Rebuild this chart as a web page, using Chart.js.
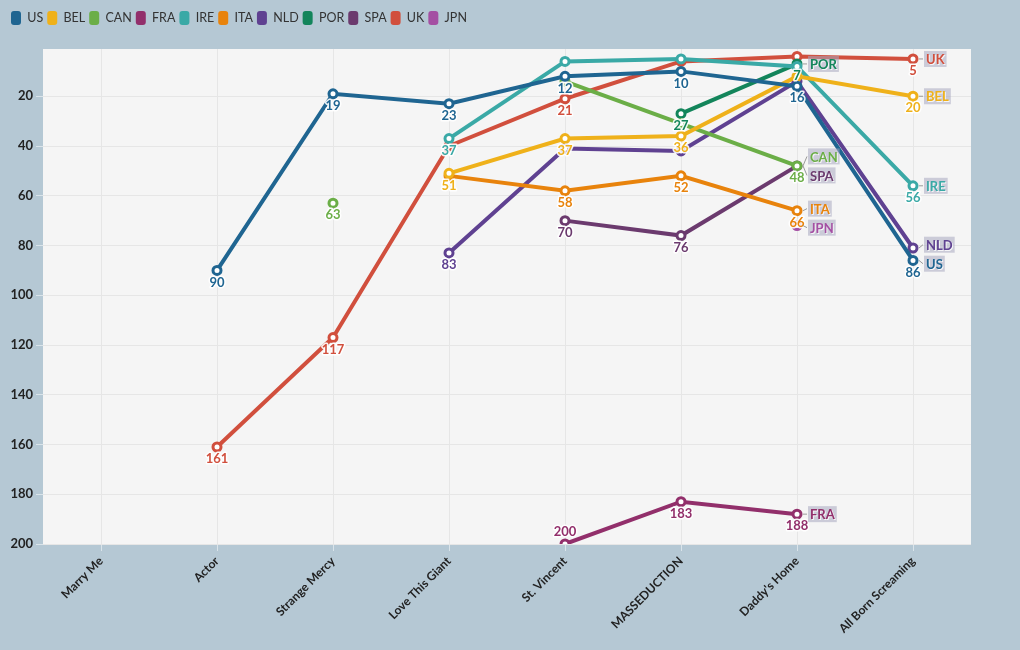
<!DOCTYPE html>
<html>
<head>
<meta charset="utf-8">
<script src="https://cdn.jsdelivr.net/npm/chart.js@4"></script>
<style>
  html, body { margin: 0; padding: 0; background: #b5c8d4; }
  #wrap { width: 1020px; height: 650px; }
</style>
</head>
<body>
<div id="wrap"><canvas id="rankChart" width="1020" height="650"></canvas></div>
<script>
/* ================= DATA ================= */
const albums = ["Marry Me", "Actor", "Strange Mercy", "Love This Giant", "St. Vincent", "MASSEDUCTION", "Daddy's Home", "All Born Screaming"];

const usPeaks  = [null, 90, 19, 23, 12, 10, 16, 86];
const belPeaks = [null, null, null, 51, 37, 36, 12, 20];
const canPeaks = [null, null, 63, null, 14, 31, 48, null];
const fraPeaks = [null, null, null, null, 200, 183, 188, null];
const irePeaks = [null, null, null, 37, 6, 5, 8, 56];
const itaPeaks = [null, null, null, 52, 58, 52, 66, null];
const nldPeaks = [null, null, null, 83, 41, 42, 14, 81];
const porPeaks = [null, null, null, null, null, 27, 7, null];
const spaPeaks = [null, null, null, null, 70, 76, 48, null];
const ukPeaks  = [null, 161, 117, 40, 21, 6, 4, 5];
const jpnPeaks = [null, null, null, null, null, null, 72, null];

const yTicks = [20, 40, 60, 80, 100, 120, 140, 160, 180, 200];

// value labels that the original hides (series:index)
const hiddenLabels = ["BEL:6", "CAN:4", "CAN:5", "IRE:4", "IRE:5", "IRE:6", "ITA:3",
  "NLD:4", "NLD:5", "NLD:6", "NLD:7", "SPA:6", "UK:3", "UK:5", "UK:6", "JPN:6"];

const FONT = "Lato, 'Noto Sans', sans-serif";

/* ================= DATASETS ================= */
function series(label, data, color) {
  return {
    label: label,
    data: data,
    borderColor: color,
    backgroundColor: color,
    pointBackgroundColor: "#ffffff",
    pointBorderColor: color,
    borderWidth: 4,
    pointRadius: 4,
    pointBorderWidth: 3,
    pointHoverRadius: 4,
    tension: 0,
    spanGaps: false
  };
}

const datasets = [
  series("US", usPeaks, "#1f6591"),
  series("BEL", belPeaks, "#efb11a"),
  series("CAN", canPeaks, "#6bae47"),
  series("FRA", fraPeaks, "#922f6b"),
  series("IRE", irePeaks, "#3aa9a6"),
  series("ITA", itaPeaks, "#e8830c"),
  series("NLD", nldPeaks, "#5f4191"),
  series("POR", porPeaks, "#13855b"),
  series("SPA", spaPeaks, "#6b3a6e"),
  series("UK", ukPeaks, "#d14f3d"),
  series("JPN", jpnPeaks, "#a44fa3")
];

/* ================= PLUGINS ================= */
const backgroundPlugin = {
  id: "bg",
  beforeDraw(chart) {
    const { ctx, chartArea: a } = chart;
    ctx.save();
    ctx.fillStyle = "#b5c8d4";
    ctx.fillRect(0, 0, chart.width, chart.height);
    ctx.fillStyle = "#f5f5f5";
    ctx.fillRect(a.left, a.top, a.right - a.left, a.bottom - a.top);
    ctx.restore();
  }
};

// fixed legend strip height, nudged in from the corner
const legendPlacementPlugin = {
  id: "legendPlacement",
  beforeUpdate(chart) {
    const lg = chart.legend;
    if (lg && !lg._fixed) {
      const fit = lg.fit;
      const draw = lg.draw;
      lg.fit = function () { fit.call(this); this.height = 49; };
      lg.draw = function () {
        this.ctx.save();
        this.ctx.translate(7, 7);
        draw.call(this);
        this.ctx.restore();
      };
      lg._fixed = true;
    }
  }
};

const labelPlugin = {
  id: "rankLabels",
  afterDatasetsDraw(chart) {
    const ctx = chart.ctx;
    const area = chart.chartArea;
    ctx.save();
    ctx.textAlign = "center";
    ctx.textBaseline = "middle";
    ctx.lineJoin = "round";

    // values under the points
    ctx.font = "bold 13px " + FONT;
    chart.data.datasets.forEach((ds, i) => {
      const meta = chart.getDatasetMeta(i);
      meta.data.forEach((pt, j) => {
        if (ds.data[j] == null) return;
        if (hiddenLabels.includes(ds.label + ":" + j)) return;
        let y = pt.y + 12;
        if (y + 7 > area.bottom) y = pt.y - 12;
        ctx.strokeStyle = "rgba(255,255,255,0.9)";
        ctx.lineWidth = 3;
        ctx.strokeText(ds.data[j], pt.x, y);
        ctx.fillStyle = ds.borderColor;
        ctx.fillText(ds.data[j], pt.x, y);
      });
    });

    // series names at the end of each line
    const ends = [];
    chart.data.datasets.forEach((ds, i) => {
      const meta = chart.getDatasetMeta(i);
      let last = -1;
      ds.data.forEach((v, j) => { if (v != null) last = j; });
      if (last < 0) return;
      const pt = meta.data[last];
      ends.push({ name: ds.label, color: ds.borderColor, px: pt.x, py: pt.y, y: pt.y });
    });

    const groups = {};
    ends.forEach(e => { (groups[Math.round(e.px)] = groups[Math.round(e.px)] || []).push(e); });
    Object.values(groups).forEach(g => {
      g.sort((a, b) => a.py - b.py);
      for (let k = 0; k < 60; k++) {
        for (let n = 1; n < g.length; n++) {
          const gap = g[n].y - g[n - 1].y;
          if (gap < 19) {
            const d = (19 - gap) / 2;
            g[n - 1].y -= d;
            g[n].y += d;
          }
        }
      }
    });

    ctx.font = "bold 13px " + FONT;
    ctx.textAlign = "left";
    ends.forEach(e => {
      const lx = e.px + 13;
      const w = ctx.measureText(e.name).width;
      ctx.strokeStyle = "#9a9a9a";
      ctx.lineWidth = 1;
      ctx.beginPath();
      ctx.moveTo(e.px + 6, e.py);
      ctx.lineTo(lx - 3, e.y);
      ctx.stroke();
      ctx.fillStyle = "rgba(168,168,192,0.55)";
      ctx.fillRect(lx - 2, e.y - 8, w + 4, 16);
      ctx.shadowColor = "rgba(255,255,255,0.8)";
      ctx.shadowOffsetX = 1;
      ctx.shadowOffsetY = 1;
      ctx.fillStyle = e.color;
      ctx.fillText(e.name, lx, e.y + 1);
      ctx.shadowColor = "transparent";
    });
    ctx.restore();
  }
};

/* ================= CHART ================= */
new Chart(document.getElementById("rankChart"), {
  type: "line",
  data: { labels: albums, datasets: datasets },
  plugins: [backgroundPlugin, legendPlacementPlugin, labelPlugin],
  options: {
    responsive: false,
    animation: false,
    layout: { padding: { top: 0, right: 49, bottom: 0, left: 0 } },
    plugins: {
      legend: {
        position: "top",
        align: "start",
        labels: {
          boxWidth: 10,
          boxHeight: 14,
          useBorderRadius: true,
          borderRadius: 3,
          padding: 4,
          color: "#333333",
          font: { family: FONT, size: 12.5 },
          generateLabels(chart) {
            return Chart.defaults.plugins.legend.labels.generateLabels(chart)
              .map(item => Object.assign(item, { lineWidth: 0 }));
          }
        }
      },
      tooltip: { enabled: false }
    },
    scales: {
      x: {
        offset: true,
        afterFit(scale) { scale.height = 106; },
        grid: { color: "#e6e6e6", tickColor: "rgba(255,255,255,0.5)", tickLength: 7 },
        border: { display: false },
        ticks: {
          maxRotation: 45,
          minRotation: 45,
          color: "#222222",
          font: { family: FONT, size: 12, weight: "bold" }
        }
      },
      y: {
        reverse: true,
        min: 1,
        max: 200,
        afterFit(scale) { scale.width = 43; },
        afterBuildTicks(scale) { scale.ticks = yTicks.map(v => ({ value: v })); },
        grid: { color: "#e6e6e6", tickColor: "rgba(255,255,255,0.5)", tickLength: 7 },
        border: { display: false },
        ticks: {
          color: "#222222",
          padding: 3,
          font: { family: FONT, size: 13, weight: "bold" }
        }
      }
    }
  }
});
</script>
</body>
</html>
